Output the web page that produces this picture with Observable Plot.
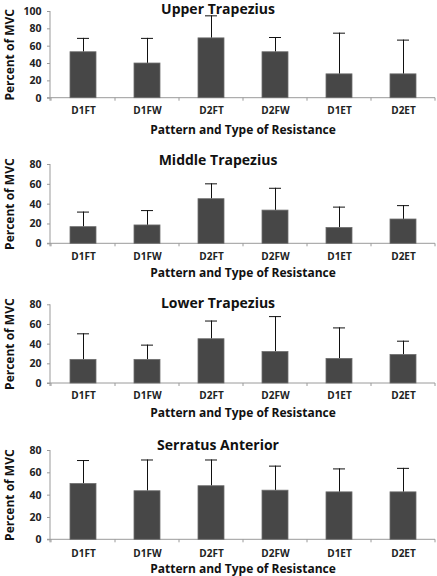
<!DOCTYPE html>
<html><head><meta charset="utf-8">
<script src="https://cdn.jsdelivr.net/npm/d3@7"></script>
<script src="https://cdn.jsdelivr.net/npm/@observablehq/plot@0.6"></script>
<style>
body{margin:0;background:#fff;}
#chart{width:437px;font-family:"Open Sans",sans-serif;}
#chart svg{display:block;}
</style></head><body><div id="chart"></div>
<script>
// ---- data ----
const categories = ["D1FT", "D1FW", "D2FT", "D2FW", "D1ET", "D2ET"];
const panelTitles = ["Upper Trapezius", "Middle Trapezius", "Lower Trapezius", "Serratus Anterior"];
const upperTrapMean  = [53, 40, 69, 53, 27.5, 27.5];
const upperTrapTop   = [69, 69, 95, 70, 75, 67];
const middleTrapMean = [16.8, 18.5, 45, 33.5, 16, 24.5];
const middleTrapTop  = [32, 33.5, 60.5, 56, 37, 38.5];
const lowerTrapMean  = [24, 24, 45, 32, 25, 29];
const lowerTrapTop   = [50.5, 39, 63.5, 68, 56.5, 43];
const serratusMean   = [50, 43.5, 48, 44, 42.5, 42.5];
const serratusTop    = [71, 71.5, 71.5, 66, 63.5, 64];
const yMaxima = [100, 80, 80, 80];
const yTickStep = 20;
const xTitle = "Pattern and Type of Resistance";
const yTitle = "Percent of MVC";

const means = [upperTrapMean, middleTrapMean, lowerTrapMean, serratusMean];
const tops = [upperTrapTop, middleTrapTop, lowerTrapTop, serratusTop];

// ---- layout (not data) ----
const layout = [
  {height: 141, marginTop: 11, marginBottom: 43.3, titleDy: -2, tickPad: 10, xTitleDy: 32},
  {height: 143, marginTop: 23, marginBottom: 40.7, titleDy: -4, tickPad: 9.5, xTitleDy: 29.7},
  {height: 144, marginTop: 20.3, marginBottom: 45, titleDy: -1.5, tickPad: 9.5, xTitleDy: 30},
  {height: 148, marginTop: 22, marginBottom: 36.7, titleDy: -5, tickPad: 11, xTitleDy: 29}
];

const axisColor = "#9a9a9a";

function frameLines(index, scales, values, dims) {
  const g = d3.create("svg:g");
  const sx = scales.x;
  const left = dims.marginLeft;
  const right = dims.width - dims.marginRight;
  const top = dims.marginTop;
  const bottom = dims.height - dims.marginBottom;
  const step = sx.step ? sx.step() : (right - left) / categories.length;
  const bw = sx.bandwidth ? sx.bandwidth() : 0;
  g.append("line").attr("x1", left).attr("x2", left).attr("y1", top).attr("y2", bottom + 3)
    .attr("stroke", axisColor).attr("stroke-width", 1);
  g.append("line").attr("x1", left - 3).attr("x2", right).attr("y1", bottom).attr("y2", bottom)
    .attr("stroke", axisColor).attr("stroke-width", 1);
  const bounds = categories.map(c => sx(c) + bw / 2 - step / 2);
  bounds.push(sx(categories[categories.length - 1]) + bw / 2 + step / 2);
  for (const b of bounds) {
    g.append("line").attr("x1", b).attr("x2", b).attr("y1", bottom).attr("y2", bottom + 3)
      .attr("stroke", axisColor).attr("stroke-width", 1);
  }
  return g.node();
}

const container = document.getElementById("chart");

panelTitles.forEach((title, i) => {
  const L = layout[i];
  const rows = categories.map((c, j) => ({cat: c, mean: means[i][j], top: tops[i][j]}));
  const yMax = yMaxima[i];
  const chart = Plot.plot({
    width: 437,
    height: L.height,
    marginLeft: 50,
    marginRight: 2,
    marginTop: L.marginTop,
    marginBottom: L.marginBottom,
    style: {fontFamily: "'Open Sans', sans-serif", background: "#fff", overflow: "visible"},
    x: {type: "band", domain: categories, paddingInner: 0.6, paddingOuter: 0.3, align: 0.5, axis: null},
    y: {domain: [0, yMax], axis: null},
    marks: [
      Plot.axisY({ticks: d3.range(0, yMax + 1, yTickStep), tickSize: 3, tickPadding: 6, stroke: axisColor,
        fill: "#222", fontSize: 10.5, fontWeight: "bold", label: null}),
      Plot.axisX({tickSize: 0, tickPadding: L.tickPad, fill: "#222", fontSize: 10, fontWeight: "bold", label: null, lineAnchor: "middle", dy: 3}),
      frameLines,
      Plot.ruleX(rows, {x: "cat", y1: "mean", y2: "top", stroke: "#111", strokeWidth: 1}),
      Plot.tickY(rows, {x: "cat", y: "top", stroke: "#111", strokeWidth: 1, insetLeft: 7, insetRight: 7}),
      Plot.barY(rows, {x: "cat", y: "mean", fill: "#474747", stroke: "#6e6e6e", strokeWidth: 0.8}),
      Plot.text([title], {frameAnchor: "top", lineAnchor: "middle", dx: -25, dy: L.titleDy, fontSize: 14, fontWeight: "bold", fill: "#111"}),
      Plot.text([xTitle], {frameAnchor: "bottom", lineAnchor: "middle", dy: L.xTitleDy, fontSize: 12, fontWeight: "bold", fill: "#111"}),
      Plot.text([yTitle], {frameAnchor: "left", textAnchor: "middle", lineAnchor: "middle", rotate: -90, dx: -40, fontSize: 12, fontWeight: "bold", fill: "#111"})
    ]
  });
  container.appendChild(chart);
});
</script>
</body></html>
